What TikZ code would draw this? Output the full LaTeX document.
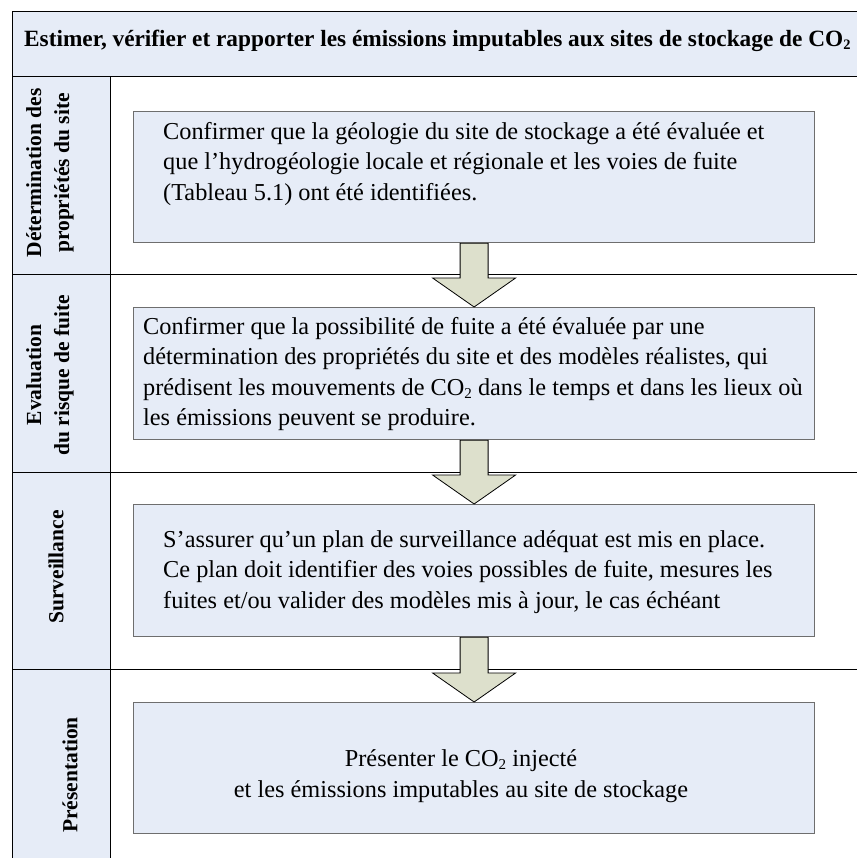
\documentclass[tikz,border=0pt]{standalone}
\usepackage{fontspec}
\setmainfont{Liberation Serif}
\usetikzlibrary{calc}
\definecolor{paleblue}{RGB}{230,236,247}
\definecolor{arrowfill}{RGB}{221,224,204}
\definecolor{boxline}{RGB}{110,110,110}
\newcommand\cotwo{CO\raisebox{-0.12em}{\scalebox{0.62}{2}}}
\begin{document}
\begin{tikzpicture}[x=1pt,y=-1pt,
  lbl/.style={font=\fontsize{21.5}{28}\selectfont\bfseries, align=center, rotate=90, inner sep=0},
  body/.style={font=\fontsize{24.3}{30.5}\selectfont, align=left, inner sep=0, anchor=north west},
  textbox/.style={draw=boxline, line width=1.2pt, fill=paleblue, anchor=north west, inner sep=0, minimum width=681pt},
  rowline/.style={draw=black, line width=1pt},
  flowarrow/.style={draw=black, line width=0.8pt, fill=arrowfill, line join=miter}]
\useasboundingbox (0,0) rectangle (856,858);
% backgrounds
\fill[paleblue] (12,12) rectangle (860,77);
\fill[paleblue] (12,77) rectangle (110,860);
% frame lines
\draw[rowline] (12,12) -- (860,12);
\draw[rowline] (12,77) -- (860,77);
\draw[rowline] (12,12) -- (12,860);
\draw[rowline] (110,77) -- (110,860);
\draw[rowline] (12,275) -- (860,275);
\draw[rowline] (12,472) -- (860,472);
\draw[rowline] (12,669) -- (860,669);
% title
\node[font=\fontsize{23.3}{28}\selectfont\bfseries, anchor=base west, inner sep=0] (title) at (24,47)
  {Estimer, vérifier et rapporter les émissions imputables aux sites de stockage de \cotwo};
% row labels
\node[lbl] (l1) at (50,173) {Détermination des\\propriétés du site};
\node[lbl] (l2) at (50,375) {Evaluation\\du risque de fuite};
\node[lbl] (l3) at (56,567) {Surveillance};
\node[lbl] (l4) at (70,775) {Présentation};
% text boxes
\node[textbox, minimum height=131pt] (b1) at (133,111) {};
\node[textbox, minimum height=132pt] (b2) at (133,307) {};
\node[textbox, minimum height=132pt] (b3) at (133,504) {};
\node[textbox, minimum height=131pt] (b4) at (133,702) {};
% texts
\node[body] (t1) at (163,122) {Confirmer que la géologie du site de stockage a été évaluée et\\que l’hydrogéologie locale et régionale et les voies de fuite\\(Tableau 5.1) ont été identifiées.};
\node[body] (t2) at (143,317) {Confirmer que la possibilité de fuite a été évaluée par une\\détermination des propriétés du site et des modèles réalistes, qui\\prédisent les mouvements de \cotwo{} dans le temps et dans les lieux où\\les émissions peuvent se produire.};
\node[body] (t3) at (163,530) {S’assurer qu’un plan de surveillance adéquat est mis en place.\\Ce plan doit identifier des voies possibles de fuite, mesures les\\fuites et/ou valider des modèles mis à jour, le cas échéant};
\node[body, align=center, anchor=center] (t4) at (461,776) {Présenter le \cotwo{} injecté\\et les émissions imputables au site de stockage};
% block arrows
\foreach \a/\b in {b1/b2, b2/b3, b3/b4}{
  \draw[flowarrow] ($(\a.south)+(-14,0)$) -- ($(\a.south)+(14,0)$) -- ($(\b.north)+(14,-29)$)
    -- ($(\b.north)+(41.5,-29)$) -- (\b.north) -- ($(\b.north)+(-41.5,-29)$)
    -- ($(\b.north)+(-14,-29)$) -- cycle;
}
\end{tikzpicture}
\end{document}
